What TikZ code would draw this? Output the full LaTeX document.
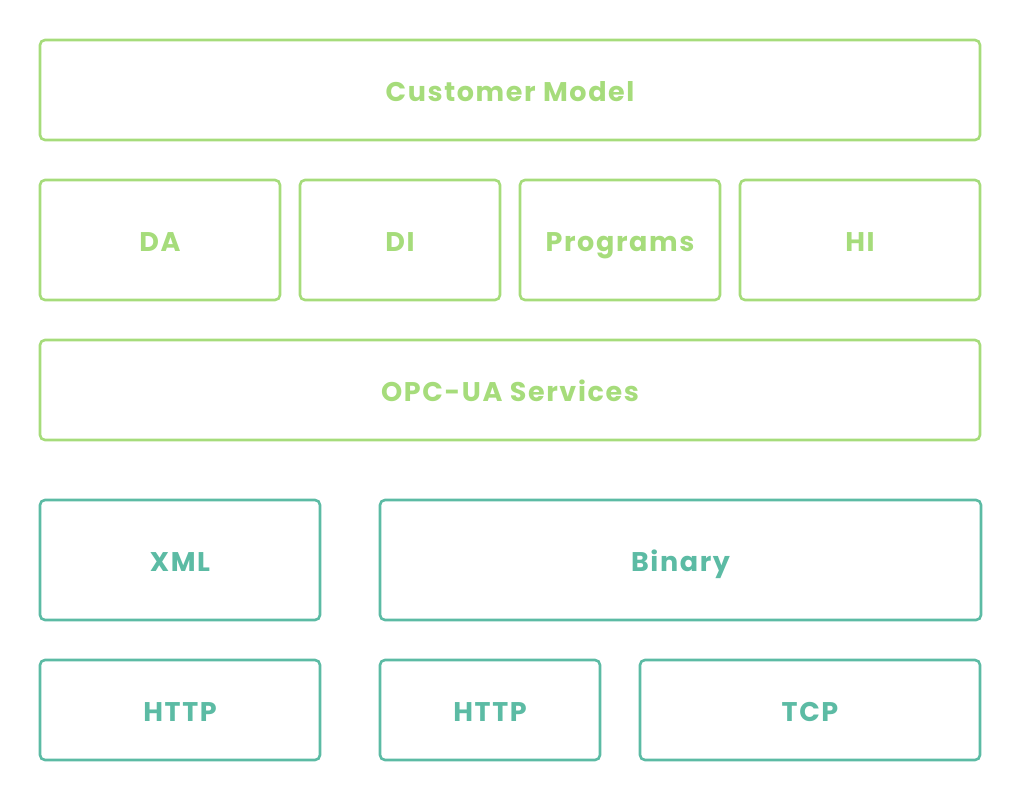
\documentclass[tikz,border=0pt]{standalone}
\usepackage{fontspec}
\setmainfont{Poppins}[LetterSpace=6]
\definecolor{layergreen}{HTML}{A6DC7B}
\definecolor{layerteal}{HTML}{5CBBA4}
\begin{document}
\begin{tikzpicture}[x=1pt,y=-1pt,
  layer/.style={draw, line width=2.6pt, rounded corners=5pt},
  upper/.style={layer, draw=layergreen},
  lower/.style={layer, draw=layerteal},
  lbl/.style={font=\fontsize{27}{32}\selectfont\bfseries, inner sep=0pt,
    text height=19pt, text depth=0pt, yshift=-2pt}]
\useasboundingbox (0,0) rectangle (1022,800);
% application layers
\draw[upper] (40,40) rectangle (980,140) node[midway, lbl, text=layergreen] (cm) {Customer Model};
\draw[upper] (40,180) rectangle (280,300) node[midway, lbl, text=layergreen] (da) {DA};
\draw[upper] (300,180) rectangle (500,300) node[midway, lbl, text=layergreen] (di) {DI};
\draw[upper] (520,180) rectangle (720,300) node[midway, lbl, text=layergreen] (pg) {Programs};
\draw[upper] (740,180) rectangle (980,300) node[midway, lbl, text=layergreen] (hi) {HI};
\draw[upper] (40,340) rectangle (980,440) node[midway, lbl, text=layergreen] (svc) {OPC-UA Services};
% encodings and transports
\draw[lower] (40,500) rectangle (320,620) node[midway, lbl, text=layerteal] (xml) {XML};
\draw[lower] (380,500) rectangle (981,620) node[midway, lbl, text=layerteal] (bin) {Binary};
\draw[lower] (40,660) rectangle (320,760) node[midway, lbl, text=layerteal] (h1) {HTTP};
\draw[lower] (380,660) rectangle (600,760) node[midway, lbl, text=layerteal] (h2) {HTTP};
\draw[lower] (640,660) rectangle (980,760) node[midway, lbl, text=layerteal] (tcp) {TCP};
\end{tikzpicture}
\end{document}
